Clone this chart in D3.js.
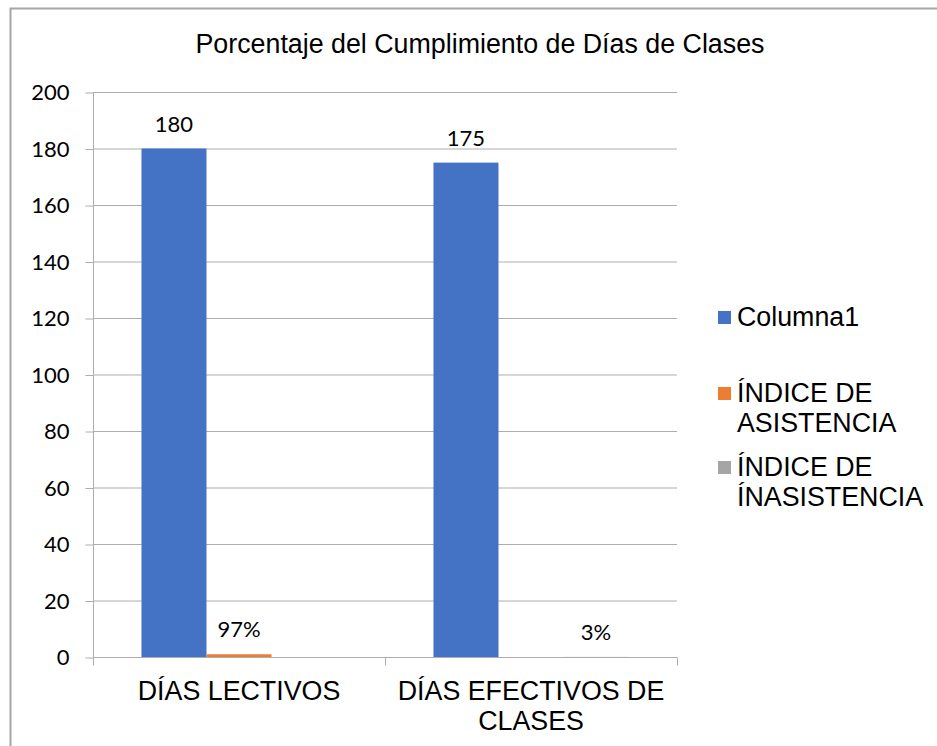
<!DOCTYPE html>
<html>
<head>
<meta charset="utf-8">
<script src="https://cdn.jsdelivr.net/npm/d3@7"></script>
<style>
  body { margin: 0; background: #fff; }
  svg { display: block; }
</style>
</head>
<body>
<svg id="chart"></svg>
<script>
// Data
const categories = ["DÍAS LECTIVOS", "DÍAS EFECTIVOS DE CLASES"];
const seriesNames = ["Columna1", "ÍNDICE DE ASISTENCIA", "ÍNDICE DE ÍNASISTENCIA"];
const columna1 = [180, 175];
const indiceAsistencia = [0.97, null];
const indiceInasistencia = [null, 0.03];
const yTicks = [0, 20, 40, 60, 80, 100, 120, 140, 160, 180, 200];
const colors = ["#4472C4", "#ED7D31", "#A5A5A5"];
const formats = [d3.format("d"), d3.format(".0%"), d3.format(".0%")];

const width = 937, height = 746;
const margin = { top: 92, right: 260, bottom: 89, left: 93 };
const arial = "'Liberation Sans', Arial, sans-serif";
const calibri = "Lato, 'Open Sans', sans-serif";
const axisCol = "#adadad";
const fs = 26.8;

const svg = d3.select("#chart")
  .attr("width", width)
  .attr("height", height)
  .attr("viewBox", [0, 0, width, height]);

// Outer frame (runs off the right and bottom edge)
svg.append("rect")
  .attr("x", 10.5).attr("y", 8.5)
  .attr("width", width + 20).attr("height", height + 20)
  .attr("fill", "#fff")
  .attr("stroke", "#a6a6a6")
  .attr("stroke-width", 2);

// Table built from the arrays
const seriesValues = [columna1, indiceAsistencia, indiceInasistencia];
const rows = categories.map((c, i) => ({
  category: c,
  values: seriesNames.map((s, j) => ({ series: s, idx: j, value: seriesValues[j][i] }))
}));

// Scales
const x0 = d3.scaleBand()
  .domain(categories)
  .range([margin.left, width - margin.right])
  .padding(0);

const groupPad = x0.bandwidth() * 0.166;
const x1 = d3.scaleBand()
  .domain(seriesNames)
  .range([groupPad, x0.bandwidth() - groupPad])
  .padding(0);

const y = d3.scaleLinear()
  .domain([0, 200])
  .range([height - margin.bottom, margin.top]);

// Gridlines
svg.append("g")
  .selectAll("line")
  .data(yTicks.filter(d => d > 0))
  .join("line")
  .attr("x1", margin.left).attr("x2", width - margin.right)
  .attr("y1", d => y(d) + 0.5).attr("y2", d => y(d) + 0.5)
  .attr("stroke", axisCol)
  .attr("stroke-width", 1);

// Y axis
const yAxis = svg.append("g")
  .attr("transform", `translate(${margin.left + 0.5},0.5)`)
  .call(d3.axisLeft(y).tickValues(yTicks).tickSize(8).tickPadding(16));
yAxis.selectAll("text")
  .style("font-family", calibri)
  .style("font-size", "22px")
  .attr("fill", "#000");
yAxis.selectAll("line, path").attr("stroke", axisCol);
yAxis.select("path.domain").attr("d", `M0,${y(200)}V${y(0)}`);

// X axis (category boundary ticks)
const xAxisG = svg.append("g")
  .attr("transform", `translate(0,${y(0) + 0.5})`);
xAxisG.append("line")
  .attr("x1", margin.left).attr("x2", width - margin.right)
  .attr("stroke", axisCol);
const bounds = categories.map(c => x0(c)).concat([x0(categories[categories.length - 1]) + x0.bandwidth()]);
xAxisG.selectAll("line.tk")
  .data(bounds)
  .join("line")
  .attr("class", "tk")
  .attr("x1", d => d + 0.5).attr("x2", d => d + 0.5)
  .attr("y1", 0).attr("y2", 8)
  .attr("stroke", axisCol);

// Word wrap helper
function wrapLines(text, maxWidth, font) {
  const ctx = document.createElement("canvas").getContext("2d");
  ctx.font = font;
  const words = text.split(" ");
  const lines = [];
  let line = "";
  words.forEach(w => {
    const t = line ? line + " " + w : w;
    if (line && ctx.measureText(t).width > maxWidth) {
      lines.push(line);
      line = w;
    } else {
      line = t;
    }
  });
  if (line) lines.push(line);
  return lines;
}

// Category labels
categories.forEach(c => {
  const lines = wrapLines(c, x0.bandwidth() - 10, `${fs}px 'Liberation Sans'`);
  const t = svg.append("text")
    .attr("x", x0(c) + x0.bandwidth() / 2)
    .attr("y", y(0) + 43)
    .attr("text-anchor", "middle")
    .style("font-family", arial)
    .style("font-size", fs + "px")
    .attr("fill", "#000");
  lines.forEach((l, i) => {
    t.append("tspan")
      .attr("x", x0(c) + x0.bandwidth() / 2)
      .attr("dy", i === 0 ? 0 : 30)
      .text(l);
  });
});

// Bars
const groups = svg.append("g")
  .selectAll("g")
  .data(rows)
  .join("g")
  .attr("transform", d => `translate(${x0(d.category)},0)`);

groups.selectAll("rect")
  .data(d => d.values.filter(v => v.value != null))
  .join("rect")
  .attr("x", d => x1(d.series))
  .attr("width", x1.bandwidth())
  .attr("y", d => y(d.value))
  .attr("height", d => y(0) - y(d.value))
  .attr("fill", d => colors[d.idx]);

// Value labels
groups.selectAll("text")
  .data(d => d.values.filter(v => v.value != null))
  .join("text")
  .attr("x", d => x1(d.series) + x1.bandwidth() / 2)
  .attr("y", d => y(d.value) - 17)
  .attr("text-anchor", "middle")
  .style("font-family", calibri)
  .style("font-size", "22px")
  .attr("fill", "#000")
  .text(d => formats[d.idx](d.value));

// Title
svg.append("text")
  .attr("x", 480)
  .attr("y", 53)
  .attr("text-anchor", "middle")
  .style("font-family", arial)
  .style("font-size", fs + "px")
  .attr("fill", "#000")
  .text("Porcentaje del Cumplimiento de Días de Clases");

// Legend
const legendX = 718;
const legendRowY = [326, 402, 476];
const legend = svg.append("g");
seriesNames.forEach((s, i) => {
  const lines = wrapLines(s, 195, `${fs}px 'Liberation Sans'`);
  legend.append("rect")
    .attr("x", legendX)
    .attr("y", legendRowY[i] - 15)
    .attr("width", 13)
    .attr("height", 13)
    .attr("fill", colors[i]);
  const t = legend.append("text")
    .attr("x", legendX + 19)
    .attr("y", legendRowY[i])
    .style("font-family", arial)
    .style("font-size", fs + "px")
    .attr("fill", "#000");
  lines.forEach((l, k) => {
    t.append("tspan")
      .attr("x", legendX + 19)
      .attr("dy", k === 0 ? 0 : 30)
      .text(l);
  });
});
</script>
</body>
</html>
